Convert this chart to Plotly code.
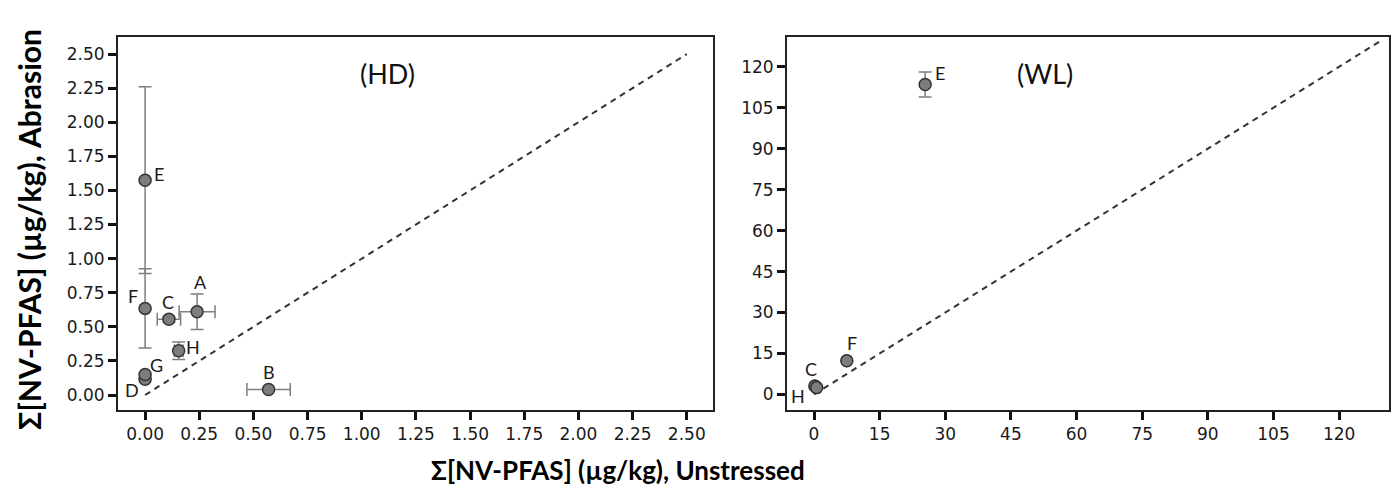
import plotly.graph_objects as go

W, H = 1397, 495

# ---------------- data: HD panel ----------------
hd_labels = ["A", "B", "C", "D", "E", "F", "G", "H"]
hd_x      = [0.24, 0.57, 0.11, 0.0, 0.0, 0.0, 0.0, 0.155]
hd_y      = [0.61, 0.04, 0.555, 0.115, 1.575, 0.635, 0.15, 0.325]
hd_xerr   = [0.083, 0.10, 0.054, 0.0, 0.0, 0.0, 0.0, 0.02]
hd_yerr   = [0.13, 0.0, 0.02, 0.0, 0.685, 0.29, 0.0, 0.064]

# ---------------- data: WL panel ----------------
wl_labels = ["C", "E", "F", "H"]
wl_x      = [0.2, 25.4, 7.5, 0.6]
wl_y      = [3.1, 113.5, 12.3, 2.5]
wl_xerr   = [0.0, 0.0, 0.0, 0.0]
wl_yerr   = [0.0, 4.6, 0.0, 0.0]

hd_ticks = [0, 0.25, 0.5, 0.75, 1.0, 1.25, 1.5, 1.75, 2.0, 2.25, 2.5]
wl_ticks = [0, 15, 30, 45, 60, 75, 90, 105, 120]
hd_line = [0, 2.5]
wl_line = [0, 130]

x_title = "Σ[NV-PFAS] (µg/kg), Unstressed"
y_title = "Σ[NV-PFAS] (µg/kg), Abrasion"

# label offsets in pixels (style)
hd_off = {"A": (3, 30), "B": (0, 18), "C": (-1, 17), "D": (-13, -11),
          "E": (14, 6), "F": (-12, 12), "G": (11, 10), "H": (14, 4)}
wl_off = {"C": (-4, 17), "E": (15, 12), "F": (5, 18), "H": (-19, -8)}

fig = go.Figure()

MARK = dict(size=12, color="#7d7d7d", line=dict(color="#333333", width=1.5))
ERRC = "#7f7f7f"

def add_panel(xs, ys, xe, ye, xa, ya, line):
    fig.add_trace(go.Scatter(
        x=line, y=line, mode="lines", xaxis=xa, yaxis=ya,
        line=dict(color="#333333", width=2, dash="6px,5px"),
        showlegend=False, hoverinfo="skip"))
    fig.add_trace(go.Scatter(
        x=xs, y=ys, mode="markers", xaxis=xa, yaxis=ya,
        marker=dict(size=12, opacity=0),
        error_x=dict(type="data", array=xe, visible=True, color=ERRC, thickness=1.5, width=6.5),
        error_y=dict(type="data", array=ye, visible=True, color=ERRC, thickness=1.5, width=6.5),
        showlegend=False, hoverinfo="skip"))
    fig.add_trace(go.Scatter(
        x=xs, y=ys, mode="markers", xaxis=xa, yaxis=ya,
        marker=MARK, showlegend=False))

add_panel(hd_x, hd_y, hd_xerr, hd_yerr, "x", "y", hd_line)
add_panel(wl_x, wl_y, wl_xerr, wl_yerr, "x2", "y2", wl_line)

LBL_FONT = dict(family="Lato", size=18, color="#1a1a1a")
for lab, x, y in zip(hd_labels, hd_x, hd_y):
    dx, dy = hd_off[lab]
    fig.add_annotation(x=x, y=y, xref="x", yref="y", text=lab, showarrow=False,
                       xshift=dx, yshift=dy, font=LBL_FONT)
for lab, x, y in zip(wl_labels, wl_x, wl_y):
    dx, dy = wl_off[lab]
    fig.add_annotation(x=x, y=y, xref="x2", yref="y2", text=lab, showarrow=False,
                       xshift=dx, yshift=dy, font=LBL_FONT)

PANEL_FONT = dict(family="Lato", size=27, color="#111111")
fig.add_annotation(x=1.12, y=2.36, xref="x", yref="y", text="(HD)", showarrow=False, font=PANEL_FONT)
fig.add_annotation(x=52.8, y=117.7, xref="x2", yref="y2", text="(WL)", showarrow=False, font=PANEL_FONT)

fig.add_annotation(x=618 / W, y=1 - 470 / H, xref="paper", yref="paper", text=x_title,
                   xanchor="center", yanchor="middle",
                   showarrow=False, font=dict(family="Lato", size=26, color="#000000", weight="bold"))
fig.add_annotation(x=29 / W, y=1 - 230 / H, xref="paper", yref="paper", text=y_title,
                   xanchor="center", yanchor="middle",
                   textangle=-90, showarrow=False,
                   font=dict(family="Lato", size=30, color="#000000", weight="bold"))

AX = dict(showline=True, linecolor="#222222", linewidth=2, mirror=True,
          ticks="outside", ticklen=8, tickwidth=2.5, tickcolor="#111111",
          showgrid=False, zeroline=False,
          tickfont=dict(family="DejaVu Sans", size=17, color="#1a1a1a"))

fig.update_layout(
    width=W, height=H, margin=dict(l=0, r=0, t=0, b=0),
    paper_bgcolor="white", plot_bgcolor="white", showlegend=False,
    xaxis=dict(domain=[118 / W, 713 / W], range=[-0.125, 2.621], tickvals=hd_ticks,
               tickformat=".2f", anchor="y", **AX),
    yaxis=dict(domain=[1 - 410 / H, 1 - 37 / H], range=[-0.11, 2.625], tickvals=hd_ticks,
               tickformat=".2f", anchor="x", **AX),
    xaxis2=dict(domain=[787 / W, 1389 / W], range=[-6.17, 131.4], tickvals=wl_ticks,
                anchor="y2", **AX),
    yaxis2=dict(domain=[1 - 410 / H, 1 - 37 / H], range=[-5.7, 130.9], tickvals=wl_ticks,
                anchor="x2", **AX),
)

fig.write_html("out.html")
